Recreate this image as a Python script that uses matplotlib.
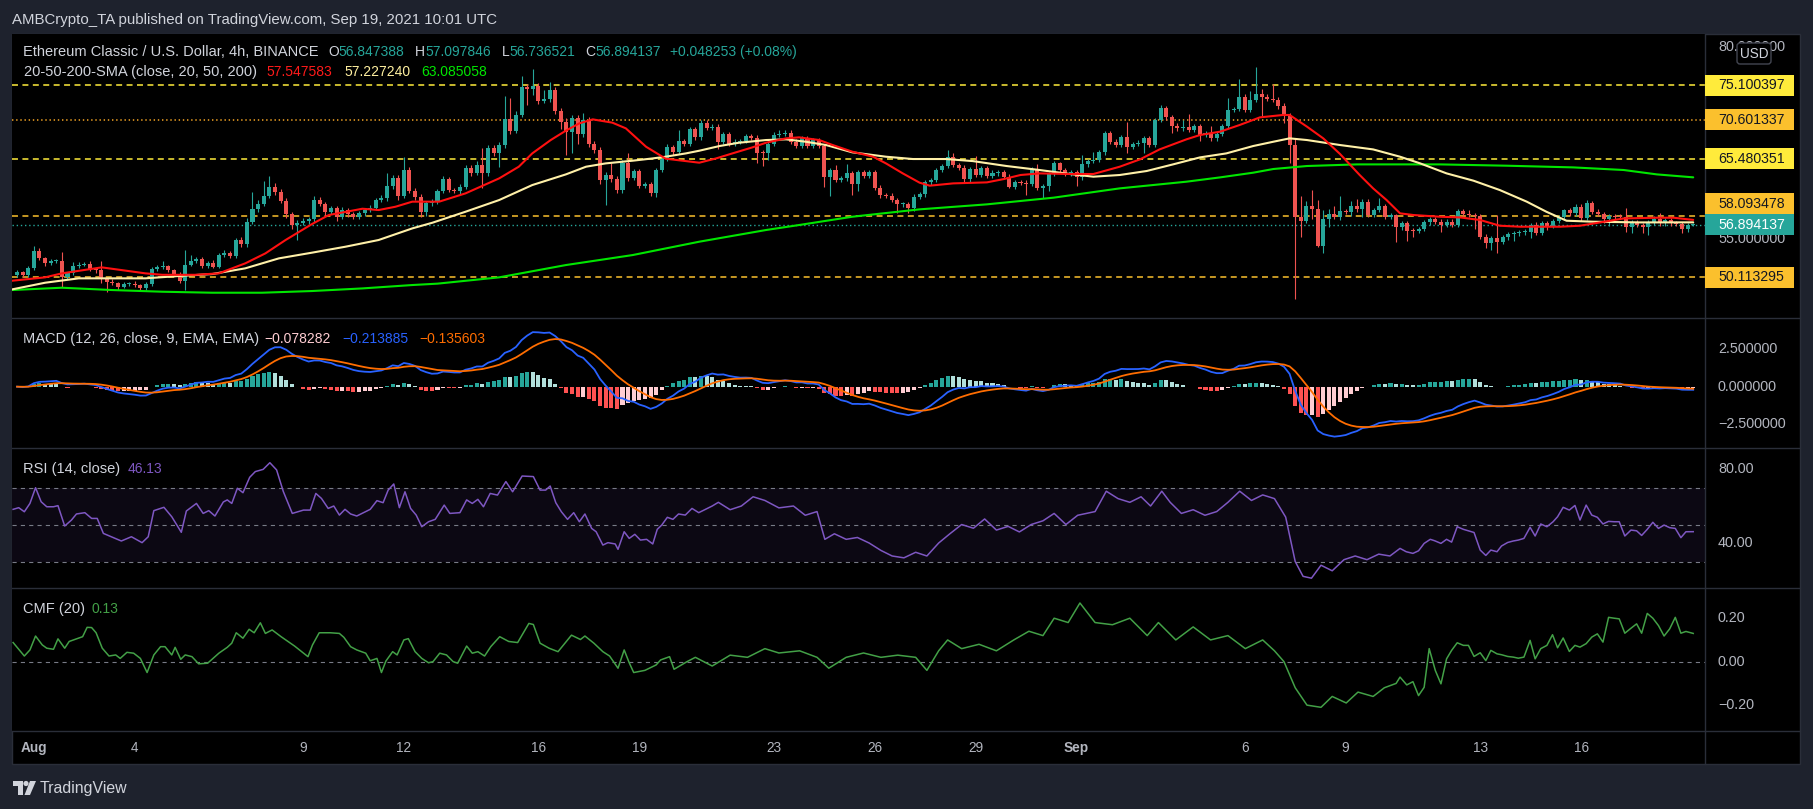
import numpy as np
import pandas as pd
import matplotlib
matplotlib.use("Agg")
import matplotlib.pyplot as plt
from matplotlib.patches import Rectangle, FancyBboxPatch, Polygon, Circle
from matplotlib.lines import Line2D
from matplotlib.transforms import IdentityTransform

plt.rcParams['font.family'] = ['Liberation Sans', 'DejaVu Sans']
plt.rcParams['lines.scale_dashes'] = False

# ---------------- data ----------------
bar_start = -3          # first bar index (4h bars counted from Aug 1 00:00 UTC)
first_open = 50.40
close = [
    50.76, 50.37, 51.24, 53.54, 52.54, 51.89, 52.15, 52.24, 50.15, 50.59,
    51.59, 51.72, 51.85, 51.11, 51.00, 49.81, 49.50, 49.29, 48.85, 49.20,
    49.24, 49.02, 48.63, 49.20, 51.11, 51.46, 51.54, 51.02, 50.50, 49.59,
    51.72, 52.19, 52.41, 51.54, 51.98, 51.46, 52.97, 53.28, 52.84, 54.93,
    54.36, 57.27, 58.92, 59.61, 60.65, 61.87, 61.22, 60.04, 58.27, 56.88,
    57.18, 57.44, 57.62, 60.13, 59.61, 58.61, 59.05, 57.96, 58.83, 58.31,
    57.96, 58.40, 58.83, 59.13, 60.13, 60.35, 61.95, 62.95, 60.65, 64.04,
    61.35, 60.57, 58.61, 59.70, 59.92, 61.30, 62.84, 61.43, 61.35, 61.87,
    64.25, 63.69, 64.69, 63.60, 66.86, 66.29, 67.29, 70.63, 69.11, 71.19,
    74.80, 74.58, 74.97, 73.06, 73.23, 74.45, 71.76, 70.33, 69.03, 70.76,
    68.72, 70.54, 67.42, 66.64, 62.73, 63.39, 62.82, 61.43, 64.99, 63.04,
    63.91, 61.95, 62.21, 61.00, 64.04, 65.47, 66.99, 66.42, 67.81, 67.42,
    69.37, 68.29, 70.20, 69.55, 69.68, 67.72, 68.72, 67.42, 67.72, 67.81,
    68.46, 68.24, 66.29, 66.20, 67.42, 68.59, 68.72, 68.90, 67.72, 67.16,
    68.16, 67.16, 67.94, 67.16, 63.17, 64.04, 62.73, 62.95, 63.60, 62.21,
    63.73, 63.26, 63.73, 61.74, 60.78, 60.70, 60.13, 59.57, 59.61, 59.05,
    60.57, 60.87, 62.43, 62.73, 64.04, 64.56, 65.68, 64.69, 64.34, 62.84,
    64.17, 63.39, 64.25, 63.26, 63.60, 63.73, 63.17, 61.87, 62.43, 62.38,
    62.21, 64.17, 61.74, 61.95, 63.52, 64.90, 64.04, 63.60, 63.73, 63.08,
    64.77, 65.20, 65.34, 66.34, 68.81, 67.72, 67.29, 68.29, 67.07, 67.42,
    67.59, 68.16, 67.29, 70.54, 72.06, 70.89, 69.80, 69.46, 69.59, 69.24,
    69.76, 68.59, 68.81, 68.16, 68.72, 69.76, 71.85, 71.98, 73.58, 71.85,
    73.15, 73.93, 73.58, 73.28, 73.20, 72.41, 71.10, 67.29, 57.87, 57.44,
    59.35, 58.92, 54.15, 57.66, 58.31, 57.96, 58.70, 58.61, 59.35, 58.92,
    59.92, 58.18, 58.83, 59.35, 57.96, 58.18, 56.57, 57.09, 56.14, 56.10,
    56.36, 57.22, 57.61, 57.31, 56.88, 57.31, 56.88, 58.70, 58.31, 58.18,
    58.05, 55.36, 54.58, 55.14, 54.71, 55.27, 55.70, 55.79, 55.92, 56.01,
    56.88, 55.88, 57.09, 56.79, 57.40, 57.87, 58.83, 58.40, 59.26, 57.83,
    59.70, 58.61, 58.31, 57.66, 58.05, 57.96, 57.90, 56.57, 57.18, 56.88,
    56.57, 57.18, 57.61, 57.09, 57.53, 57.09, 57.00, 56.31, 56.85, 56.894137,
]
wick_up = [
    0.3, 0.2, 0.3, 0.6, 0.3, 0.2, 0.3, 0.2, 1.1, 0.2,
    0.5, 0.3, 0.2, 0.3, 0.2, 1.2, 0.2, 0.3, 0.2, 0.2,
    0.2, 0.3, 0.2, 0.2, 0.3, 0.2, 0.6, 0.2, 0.2, 0.3,
    1.9, 0.8, 0.3, 0.3, 0.2, 0.3, 0.3, 0.4, 0.2, 0.3,
    0.4, 0.5, 2.2, 0.5, 1.9, 1.4, 0.5, 0.4, 0.3, 0.3,
    0.3, 0.3, 0.3, 0.5, 0.4, 0.3, 0.3, 0.3, 0.4, 0.3,
    0.2, 0.3, 0.3, 0.3, 0.3, 0.4, 1.65, 0.4, 0.4, 1.7,
    0.4, 0.3, 0.3, 0.3, 0.3, 0.3, 0.4, 0.3, 0.3, 0.4,
    0.4, 0.4, 0.5, 2.2, 0.4, 0.4, 0.4, 3.0, 2.8, 0.5,
    1.5, 0.4, 2.2, 0.4, 1.2, 1.1, 0.4, 0.4, 0.5, 0.5,
    0.4, 0.9, 0.4, 0.4, 0.4, 0.4, 1.5, 0.4, 0.3, 1.2,
    0.3, 0.3, 0.3, 0.3, 0.3, 0.4, 0.4, 0.3, 1.5, 0.3,
    0.3, 0.3, 0.35, 0.3, 0.3, 0.3, 0.3, 0.3, 0.3, 0.3,
    0.3, 0.3, 0.3, 0.3, 0.3, 0.4, 0.5, 0.3, 0.3, 0.3,
    0.3, 0.3, 0.3, 0.3, 0.3, 0.3, 0.65, 0.3, 1.2, 0.3,
    0.3, 0.3, 0.3, 0.3, 0.3, 0.3, 0.3, 0.3, 0.3, 0.3,
    0.3, 0.3, 0.3, 0.3, 0.3, 0.3, 0.95, 0.6, 0.3, 0.3,
    0.3, 1.7, 0.3, 0.3, 0.4, 0.3, 0.3, 0.4, 0.3, 0.3,
    0.3, 0.3, 0.7, 0.3, 0.3, 0.3, 0.2, 0.3, 0.3, 0.3,
    1.2, 0.3, 1.1, 0.3, 0.3, 0.3, 0.3, 0.3, 2.0, 0.3,
    0.3, 0.3, 0.3, 0.3, 0.45, 0.3, 0.3, 0.3, 0.9, 1.7,
    0.3, 0.3, 0.3, 1.0, 0.3, 0.3, 1.6, 0.3, 2.3, 0.3,
    1.2, 3.5, 0.65, 0.3, 1.95, 0.4, 0.3, 0.3, 0.87, 2.8,
    0.7, 2.1, 1.2, 1.2, 0.7, 1.0, 1.9, 0.3, 0.6, 0.9,
    0.4, 0.3, 0.3, 1.0, 0.3, 0.3, 0.1, 0.3, 0.3, 0.3,
    0.3, 0.3, 0.3, 0.3, 0.3, 0.3, 0.3, 0.26, 0.3, 0.5,
    0.3, 0.3, 0.3, 0.3, 3.0, 0.3, 0.3, 0.3, 0.3, 0.3,
    0.3, 0.35, 0.3, 0.3, 0.3, 0.3, 0.2, 0.3, 0.3, 0.3,
    0.45, 0.3, 0.3, 0.3, 0.3, 0.3, 0.3, 1.15, 0.3, 0.3,
    0.3, 0.3, 0.5, 0.8, 0.3, 0.3, 0.3, 0.3, 0.3, 0.2,
]
wick_dn = [
    0.3, 0.2, 0.2, 0.2, 0.2, 0.3, 0.2, 0.2, 1.3, 0.3,
    0.2, 0.3, 0.2, 0.2, 0.3, 0.45, 1.3, 0.2, 0.4, 0.2,
    0.3, 0.2, 0.2, 0.2, 0.2, 0.2, 0.3, 0.2, 0.3, 0.3,
    1.2, 0.2, 0.3, 0.2, 0.3, 0.2, 0.2, 0.3, 0.2, 0.3,
    0.3, 0.3, 0.3, 0.4, 0.3, 0.3, 0.4, 0.3, 0.5, 0.5,
    1.95, 0.3, 0.4, 0.3, 0.3, 0.5, 0.3, 0.5, 0.3, 0.4,
    0.3, 0.3, 0.3, 0.3, 0.3, 0.3, 0.3, 0.4, 0.5, 0.3,
    0.3, 0.4, 0.65, 0.6, 0.3, 0.3, 0.3, 0.3, 0.3, 0.4,
    0.3, 0.4, 0.3, 1.95, 0.3, 0.4, 1.8, 0.4, 0.4, 0.3,
    0.3, 2.1, 0.8, 0.4, 0.3, 0.4, 0.4, 0.9, 3.0, 2.8,
    1.3, 0.4, 0.4, 0.4, 0.5, 3.25, 0.4, 0.4, 0.4, 0.4,
    0.3, 0.3, 0.3, 0.3, 0.5, 0.3, 0.3, 0.4, 0.3, 0.3,
    0.3, 0.3, 0.3, 0.3, 0.3, 1.0, 0.3, 0.3, 0.3, 0.3,
    0.3, 0.3, 1.4, 1.65, 0.9, 0.3, 0.3, 0.3, 0.3, 0.3,
    0.3, 0.3, 0.3, 0.3, 1.3, 2.5, 0.3, 0.3, 0.3, 1.4,
    0.85, 0.3, 0.3, 0.3, 0.4, 0.3, 0.3, 1.1, 0.3, 0.6,
    0.3, 0.3, 0.3, 0.3, 0.3, 0.3, 0.3, 0.3, 0.3, 0.4,
    0.3, 0.3, 0.3, 0.3, 0.3, 0.3, 0.3, 0.2, 0.3, 0.3,
    1.4, 0.3, 0.3, 1.3, 0.7, 0.3, 0.3, 0.3, 0.3, 1.1,
    0.3, 0.3, 0.3, 0.3, 0.3, 0.3, 0.3, 0.3, 0.8, 0.3,
    0.3, 1.4, 0.3, 0.3, 0.3, 0.3, 1.0, 0.3, 0.3, 0.3,
    0.3, 0.8, 0.3, 0.3, 0.3, 0.3, 0.3, 0.3, 0.3, 0.3,
    0.3, 0.3, 2.5, 0.3, 0.3, 0.45, 0.9, 2.4, 10.67, 2.1,
    0.35, 1.2, 0.1, 0.96, 1.0, 0.3, 0.4, 0.3, 0.5, 0.3,
    1.0, 0.3, 0.3, 0.3, 0.3, 0.3, 1.85, 0.3, 1.3, 0.75,
    0.3, 0.3, 0.3, 0.3, 0.87, 0.3, 0.3, 0.3, 0.3, 0.3,
    1.7, 0.3, 0.65, 0.96, 1.5, 0.3, 0.3, 0.85, 0.3, 0.3,
    0.8, 0.3, 0.3, 0.55, 0.3, 0.3, 0.3, 0.3, 0.3, 0.4,
    0.3, 0.3, 0.3, 0.57, 0.9, 0.3, 0.3, 0.56, 0.7, 0.3,
    0.7, 1.0, 0.3, 0.3, 0.3, 0.3, 0.3, 0.43, 0.3, 0.11,
]

sma20_pts = [(-3.9, 49.63), (2, 50.07), (5, 50.59), (12.1, 51.37), (19.9, 50.59), (22.9, 50.4),
             (28.8, 50.4), (33, 50.59), (37.7, 51.89), (41.3, 53.19), (44.9, 54.93), (49.6, 57.0),
             (52.6, 58.18), (58.6, 59.0), (61.5, 58.83), (64.5, 59.26), (67.5, 59.92), (72.3, 59.92),
             (77, 61.0), (83, 62.95), (86.5, 64.47), (88.9, 66.2), (92.2, 67.94), (94.9, 69.16),
             (97.3, 70.11), (99.7, 70.63), (103.2, 70.2), (105.6, 69.46), (109.2, 67.07), (112.7, 65.51),
             (116.3, 65.2), (118.7, 64.99), (121.7, 65.55), (124.6, 66.2), (128.2, 66.99), (130.6, 67.59),
             (134.2, 68.16), (136.5, 68.29), (140.1, 67.94), (142.5, 67.29), (146, 66.42), (149.7, 65.77),
             (152, 64.9), (155, 63.6), (158, 62.39), (159.8, 62.0), (164, 62.3), (170, 62.43),
             (173, 62.86), (176, 63.39), (179.4, 63.6), (184.8, 63.52), (189, 63.52), (193.7, 64.47),
             (197.3, 65.42), (200.8, 66.72), (205.6, 68.03), (208, 68.59), (211.6, 69.03), (215.1, 69.9),
             (218.7, 70.89), (222.8, 71.2), (224, 71.2), (227.1, 69.68), (230, 68.16), (233, 66.12),
             (236.5, 63.39), (238.9, 61.65), (241.3, 60.13), (243.7, 58.4), (246.1, 58.18), (250.8, 57.96),
             (254.4, 57.87), (258, 57.53), (261.5, 56.79), (265.1, 56.66), (268.7, 56.66), (272.3, 56.66),
             (275.8, 56.79), (279.4, 57.22), (283.6, 57.74), (289.5, 57.83), (292.5, 57.83), (296, 57.547583)]
sma50_pts = [(-3.9, 48.5), (2, 49.37), (8, 49.94), (13.9, 49.94), (19.9, 49.94), (25.8, 50.24),
             (31.8, 50.5), (37.7, 51.24), (43.7, 52.54), (49.6, 53.28), (55.6, 54.06), (61.5, 54.93),
             (67.5, 56.44), (71.1, 57.18), (77, 58.61), (83, 60.13), (88.9, 62.08), (94.9, 63.47),
             (98.5, 64.47), (102, 64.9), (106.8, 65.25), (110.4, 65.55), (112.7, 65.77), (116.3, 66.2),
             (118.7, 66.55), (122.3, 67.16), (125.8, 67.59), (130.6, 67.94), (134.2, 68.03), (137.7, 67.72),
             (141.3, 67.29), (146, 66.34), (152, 65.77), (156.8, 65.47), (162.7, 65.47), (167.5, 65.2),
             (173.5, 64.56), (179.4, 64.04), (184.8, 63.52), (189, 63.17), (193.7, 63.39), (198.5, 63.91),
             (203.2, 64.77), (208, 65.68), (212.7, 66.2), (217.5, 67.16), (221.1, 67.72), (224, 68.16),
             (227.1, 67.94), (233, 67.29), (238.9, 66.72), (243.7, 65.77), (247.3, 64.9), (252, 63.6),
             (256.8, 62.65), (261.5, 61.43), (266.3, 59.92), (269.8, 58.61), (273.4, 57.44), (278.2, 57.31),
             (286.5, 57.22), (296, 57.22724)]
sma200_pts = [(-3.9, 48.42), (5, 48.72), (13.9, 48.42), (22.9, 48.2), (31.8, 48.07), (40.7, 48.07),
              (49.6, 48.29), (58.6, 48.63), (67.5, 49.07), (72, 49.25), (83, 50.07), (94.9, 51.67),
              (106.8, 52.97), (118.7, 54.71), (130.6, 56.23), (136.5, 56.88), (146, 57.96), (158, 58.92),
              (170, 59.57), (181.9, 60.44), (193.7, 61.65), (205.6, 62.52), (211.6, 63.08), (217.5, 63.69),
              (221.1, 64.17), (227.1, 64.56), (236, 64.77), (250.8, 64.77), (262.7, 64.6), (274.6, 64.38),
              (283.6, 64.04), (289.5, 63.47), (296, 63.085058)]

rsi_pts = [(-3.7, 58.2), (-2.7, 59.1), (-1.7, 56.9), (-0.7, 61.4), (0.3, 69.9), (1.3, 62.3), (2.3, 59.6),
           (3.5, 59.6), (4.3, 60.2), (5.5, 49.2), (6.7, 52.4), (7.6, 55.7), (9.1, 56.4), (10.3, 53.3),
           (11.3, 53.3), (12.4, 45.2), (13.8, 43.4), (15.6, 41.1), (17.4, 43.4), (19.3, 40.2), (20.4, 43.4),
           (21.4, 57.5), (23.2, 59.3), (24.6, 54.2), (26.3, 45.8), (27.2, 57.3), (29, 61.4), (30.2, 56.0),
           (31.2, 57.5), (32.3, 54.6), (33.8, 62.2), (34.5, 63.3), (35.3, 61.4), (36.3, 69.6), (37.3, 67.2),
           (38.5, 75.5), (39.5, 78.6), (40.9, 79.8), (42.1, 83.4), (43.3, 79.5), (44.5, 67.8), (46.1, 56.0),
           (48.1, 57.8), (49.3, 57.8), (50.3, 66.8), (51.3, 64.1), (52.5, 58.7), (53.5, 60.0), (54.5, 55.1),
           (55.5, 58.2), (56.5, 55.7), (57.6, 54.6), (58.8, 56.4), (60, 58.2), (61.2, 62.9), (62.3, 61.8),
           (63.2, 68.6), (64.2, 71.9), (65.2, 59.1), (66.2, 67.7), (67.2, 58.7), (68.2, 55.1), (69.2, 48.8),
           (70.4, 51.5), (71.6, 52.8), (73.2, 60.5), (74.2, 56.0), (76, 56.4), (77.2, 63.3), (78.2, 61.4),
           (79.2, 63.6), (80.2, 59.6), (81.4, 66.8), (82.7, 65.9), (84.2, 73.2), (85.4, 67.7), (87.1, 76.2),
           (89.1, 75.9), (90.3, 68.6), (91.3, 68.6), (92.1, 70.8), (93.1, 61.8), (94.1, 56.9), (95.2, 52.8),
           (96.3, 56.4), (97.3, 51.5), (98.3, 55.7), (99.5, 47.9), (100.3, 46.1), (101.5, 38.9), (102.4, 40.2),
           (103.7, 39.5), (104.2, 36.6), (105.3, 46.1), (106.2, 42.5), (107.2, 44.7), (108.2, 41.6),
           (109.3, 42.0), (110.4, 39.5), (111.2, 47.4), (112, 49.7), (113, 53.9), (114, 52.8), (115, 55.7),
           (116.2, 55.1), (117.4, 58.7), (118.6, 56.4), (121, 60), (122.1, 62), (124.2, 58), (126.2, 60),
           (128.3, 65), (130.4, 63), (132.9, 59), (135.5, 60), (137.6, 55), (139.7, 57), (141.1, 42),
           (142.8, 45), (144.9, 42), (146.9, 43), (149, 40), (151.1, 36), (153.1, 33), (155.2, 32),
           (157.3, 35), (159.3, 33), (161.4, 40), (163.4, 45), (165.5, 50), (167.6, 48), (169.6, 53),
           (171.7, 47), (173.8, 49), (175.8, 46), (177.9, 50), (180, 52), (182, 56), (184.1, 50),
           (186.2, 55), (189.3, 57), (191.3, 68), (193.4, 64), (195.5, 62), (197.5, 65), (199.2, 60),
           (201.2, 68), (202.7, 62), (204.7, 56), (206.8, 58), (208.9, 55), (211, 57), (213, 62),
           (215.1, 68), (217.2, 63), (219.2, 66), (221.3, 64), (223.3, 54), (225, 30), (226.4, 22),
           (227.9, 21), (229.6, 28), (231.6, 25), (233.7, 31), (235.7, 33), (237.8, 31), (239.9, 34),
           (241.9, 33), (243.7, 37.1), (244.8, 35.3), (246, 34.4), (247, 35.8), (248, 39.8), (249.1, 42.0),
           (249.9, 41.2), (251, 39.8), (252, 42.0), (252.9, 40.5), (253.9, 48.8), (255, 47.4), (255.9, 46.6),
           (256.9, 45.7), (258, 36.2), (259, 33.3), (259.9, 36.2), (261, 35.3), (261.8, 38.4), (262.9, 40.3),
           (263.9, 41.1), (264.8, 41.6), (265.8, 42.5), (266.9, 48.5), (267.8, 43.8), (268.8, 50.3),
           (269.9, 48.8), (271, 51.5), (271.8, 54.2), (272.8, 59.3), (273.9, 57.8), (274.9, 60.3),
           (275.8, 52.4), (276.9, 60.5), (277.9, 55.1), (278.9, 53.9), (279.9, 50.3), (280.9, 51.7),
           (281.9, 51.5), (282.8, 51.5), (283.8, 43.8), (284.9, 47.0), (285.9, 46.6), (286.8, 44.1),
           (287.8, 47.4), (288.8, 51.2), (289.8, 47.9), (290.8, 49.7), (291.8, 48.3), (292.8, 47.9),
           (293.8, 42.9), (294.7, 46.1), (296, 46.13)]

cmf_pts = [(-3.7, 0.088), (-1.7, 0.026), (-0.7, 0.054), (0.3, 0.118), (1.5, 0.077), (2.3, 0.062),
           (3.5, 0.057), (4.3, 0.105), (5.5, 0.062), (6.3, 0.093), (7.9, 0.108), (8.7, 0.115), (9.5, 0.158),
           (10.3, 0.157), (11.1, 0.133), (12.2, 0.062), (13.4, 0.026), (14.6, 0.031), (15.4, 0.015),
           (16.6, 0.043), (17.8, 0.039), (19, 0.015), (20.2, -0.05), (21.4, 0.031), (22.6, 0.069),
           (23.4, 0.069), (24.6, 0.031), (25.2, 0.066), (26.2, 0.011), (27, 0.031), (28.2, 0.023),
           (29.4, -0.01), (31, -0.007), (33, 0.039), (34.5, 0.066), (35.3, 0.085), (36.1, 0.133),
           (37.3, 0.108), (38.4, 0.149), (39.3, 0.133), (40.4, 0.179), (41.3, 0.13), (42.5, 0.146),
           (44.1, 0.115), (46.5, 0.072), (48.9, 0.023), (49.7, 0.077), (50.9, 0.133), (52.9, 0.133),
           (54.5, 0.13), (55.3, 0.112), (56.5, 0.069), (57.6, 0.054), (59.2, 0.039), (60, 0.004),
           (61.2, 0.015), (62, -0.05), (62.8, 0.003), (64, 0.046), (64.8, 0.031), (66, 0.1), (66.8, 0.106),
           (68, 0.046), (69.2, 0.015), (70.4, -0.005), (71.2, 0.0), (72.4, 0.039), (73.6, 0.031),
           (74.8, 0.0), (75.6, -0.007), (77.2, 0.072), (78.2, 0.039), (79.2, 0.046), (80.4, 0.026),
           (81.5, 0.069), (83.1, 0.115), (84.7, 0.093), (86.3, 0.088), (88.3, 0.176), (89.1, 0.171),
           (90.3, 0.085), (91.9, 0.062), (93.5, 0.046), (95.9, 0.122), (97.5, 0.102), (98.3, 0.118),
           (99.9, 0.085), (101.5, 0.046), (102.7, 0.026), (104.2, -0.03), (105.3, 0.054), (106.2, -0.005),
           (107, -0.05), (109, -0.04), (111, -0.015), (111.8, 0.008), (113.4, 0.023), (114.2, -0.035),
           (116.5, 0.0), (118, 0.02), (121, -0.02), (124.2, 0.03), (127.3, 0.02), (130.4, 0.06),
           (132.9, 0.04), (136.6, 0.05), (139.7, 0.02), (141.8, -0.03), (144.9, 0.02), (148, 0.04),
           (151.1, 0.02), (154.1, 0.03), (157.3, 0.02), (159.3, -0.04), (161.4, 0.05), (163, 0.1),
           (165.5, 0.06), (168.6, 0.08), (171.7, 0.05), (174.8, 0.1), (177.5, 0.14), (180, 0.12),
           (182, 0.2), (184.5, 0.18), (186.6, 0.27), (189.3, 0.18), (192.4, 0.17), (195.5, 0.2),
           (198.6, 0.12), (200.6, 0.18), (203.7, 0.1), (206.8, 0.16), (209.9, 0.1), (213, 0.12),
           (216.1, 0.06), (219.2, 0.1), (221.3, 0.05), (223, 0.0), (225, -0.12), (227.1, -0.2),
           (229.6, -0.21), (231.6, -0.16), (234.1, -0.19), (236.2, -0.14), (238.9, -0.16), (240.9, -0.12),
           (243, -0.1), (243.7, -0.071), (244.9, -0.107), (246, -0.092), (247, -0.156), (248, -0.118),
           (248.9, 0.06), (250, -0.041), (251, -0.102), (252, 0.013), (252.9, 0.052), (253.9, 0.087),
           (255, 0.075), (255.9, 0.075), (256.9, 0.024), (258, 0.041), (259, 0.005), (259.9, 0.052),
           (261, 0.036), (261.8, 0.032), (262.9, 0.024), (263.9, 0.021), (264.8, 0.016), (265.8, 0.021),
           (266.9, 0.098), (267.8, 0.013), (268.8, 0.06), (269.9, 0.075), (270.9, 0.124), (271.8, 0.064),
           (272.8, 0.109), (273.9, 0.047), (274.9, 0.075), (275.8, 0.067), (276.9, 0.083), (277.9, 0.113),
           (278.9, 0.128), (279.9, 0.09), (280.9, 0.204), (281.9, 0.2), (282.8, 0.197), (283.8, 0.131),
           (284.9, 0.154), (285.9, 0.174), (286.8, 0.131), (287.8, 0.222), (288.8, 0.2), (289.8, 0.166),
           (290.8, 0.118), (291.8, 0.151), (292.8, 0.204), (293.8, 0.131), (294.7, 0.139), (296, 0.13)]

levels = [75.100397, 70.601337, 65.480351, 58.093478, 50.113295]
level_line_colors = ['#ffeb3b', '#f9a825', '#ffeb3b', '#fbc02d', '#fbc02d']
level_box_colors = ['#ffeb3b', '#fbc02d', '#ffeb3b', '#fbc02d', '#fbc02d']
level_dotted = [False, True, False, False, False]
last_price = 56.894137
price_ticks = [80, 55]          # tick labels not hidden behind the level boxes
macd_ticks = [2.5, 0.0, -2.5]
macd_tick_labels = ['2.500000', '0.000000', '\u22122.500000']
rsi_ticks = [80, 40]
rsi_tick_labels = ['80.00', '40.00']
cmf_ticks = [0.2, 0.0, -0.2]
cmf_tick_labels = ['0.20', '0.00', '\u22120.20']
date_days = [0, 3, 8, 11, 15, 18, 22, 25, 28, 31, 36, 39, 43, 46]
date_labels = ['Aug', '4', '9', '12', '16', '19', '23', '26', '29', 'Sep', '6', '9', '13', '16']
bars_per_day = 6

# ---------------- figure ----------------
W, H = 1813, 809
fig = plt.figure(figsize=(W / 100, H / 100), dpi=100)
fig.patch.set_facecolor('#1e222d')
ID = IdentityTransform()
GRID = '#2a2e39'
AXTXT = '#b2b5be'


def px_axes(x0, y0, x1, y1):
    a = fig.add_axes([x0 / W, 1 - y1 / H, (x1 - x0) / W, (y1 - y0) / H])
    a.set_facecolor('#000000')
    for s in a.spines.values():
        s.set_visible(False)
    a.set_xticks([])
    a.set_yticks([])
    a.set_xlim(-3.9, 298.1)
    return a


fig.add_artist(Rectangle((12, H - 764), 1788, 730, transform=ID, facecolor='#000000',
                         edgecolor=GRID, lw=1, zorder=-1))

PL, PR = 12, 1705
ax = px_axes(PL, 34, PR, 318)
axm = px_axes(PL, 318, PR, 448)
axr = px_axes(PL, 448, PR, 588)
axc = px_axes(PL, 588, PR, 731)
ax.set_ylim(44.78, 81.74)
axm.set_ylim(-4.09, 4.58)
axr.set_ylim(15.7, 91.35)
axc.set_ylim(-0.319, 0.339)

for yy in [318, 448, 588, 731]:
    fig.add_artist(Line2D([12, 1800], [H - yy, H - yy], transform=ID, color=GRID, lw=1, zorder=4))
fig.add_artist(Line2D([PR, PR], [H - 34, H - 764], transform=ID, color=GRID, lw=1, zorder=4))

# ---------------- candles ----------------
n = len(close)
xi = np.arange(n) + bar_start
c = np.array(close)
o = np.concatenate([[first_open], c[:-1]])
hi = np.maximum(o, c) + np.array(wick_up)
lo = np.minimum(o, c) - np.array(wick_dn)
cols = np.where(c >= o, '#26a69a', '#ef5350')

for lv, lc, dotted in zip(levels, level_line_colors, level_dotted):
    ax.axhline(lv, color=lc, lw=1.1, dashes=(1, 2) if dotted else (4.3, 3.2), zorder=1)
ax.axhline(last_price, color='#26a69a', lw=1.0, dashes=(1, 2), zorder=1)

ax.vlines(xi, lo, hi, colors=cols, lw=0.8, zorder=2)
ax.bar(xi, np.maximum(np.abs(c - o), 0.12), bottom=np.minimum(o, c), width=0.72,
       color=cols, lw=0, zorder=3)

for pts, colr in [(sma200_pts, '#00e600'), (sma50_pts, '#fff0a8'), (sma20_pts, '#ff1010')]:
    px, pv = zip(*pts)
    ax.plot(px, pv, color=colr, lw=1.5, zorder=4, solid_capstyle='round')

# ---------------- MACD ----------------
s = pd.Series(c)
macd = s.ewm(span=12, adjust=False).mean() - s.ewm(span=26, adjust=False).mean()
signal = macd.ewm(span=9, adjust=False).mean()
hist = (macd - signal).values
prev = np.concatenate([[0.0], hist[:-1]])
hcol = np.where(hist >= 0, np.where(hist > prev, '#26a69a', '#b2dfdb'),
                np.where(hist < prev, '#ff5252', '#ffcdd2'))
axm.bar(xi, hist, width=0.72, color=hcol, lw=0, zorder=2)
axm.plot(xi, macd.values, color='#2962ff', lw=1.3, zorder=3)
axm.plot(xi, signal.values, color='#ff6d00', lw=1.3, zorder=3)

# ---------------- RSI ----------------
axr.axhspan(30, 70, color='#7e57c2', alpha=0.1, lw=0, zorder=0)
for lv in [70, 50, 30]:
    axr.axhline(lv, color='#787b86', lw=0.8, dashes=(3, 3), zorder=1)
rx, rv = zip(*rsi_pts)
axr.plot(rx, rv, color='#7e57c2', lw=1.1, zorder=2)

# ---------------- CMF ----------------
axc.axhline(0, color='#787b86', lw=0.8, dashes=(3, 3), zorder=1)
cx, cv = zip(*cmf_pts)
axc.plot(cx, cv, color='#43a047', lw=1.1, zorder=2)

# ---------------- price axis labels ----------------
LBL_X = 1718
FS_AX = 10.4
FS_BOX = 10.2


def ydisp(a, v):
    return a.transData.transform((0, v))[1]


def axis_label(a, v, text):
    fig.text(LBL_X / W, ydisp(a, v) / H, text, color=AXTXT, fontsize=FS_AX,
             va='center', ha='left', zorder=5)


for v in price_ticks:
    axis_label(ax, v, '%.6f' % v)
for v, t in zip(macd_ticks, macd_tick_labels):
    axis_label(axm, v, t)
for v, t in zip(rsi_ticks, rsi_tick_labels):
    axis_label(axr, v, t)
for v, t in zip(cmf_ticks, cmf_tick_labels):
    axis_label(axc, v, t)

BOX_H = 21


def price_box(yc, text, fc, tc):
    fig.add_artist(Rectangle((PR, yc - BOX_H / 2), 89, BOX_H, transform=ID, facecolor=fc,
                             edgecolor='none', zorder=6))
    fig.text(LBL_X / W, yc / H, text, color=tc, fontsize=FS_BOX, va='center', ha='left', zorder=7)


cur_y = ydisp(ax, last_price)
for lv, bc in zip(levels, level_box_colors):
    yc = ydisp(ax, lv)
    if abs(yc - cur_y) < BOX_H:
        yc = cur_y + BOX_H if yc > cur_y else cur_y - BOX_H
    price_box(yc, '%.6f' % lv, bc, '#131722')
price_box(cur_y, '%.6f' % last_price, '#26a69a', '#ffffff')

fig.add_artist(FancyBboxPatch((1737, H - 64), 34, 21, boxstyle='round,pad=0,rounding_size=3',
                              transform=ID, facecolor='#000000', edgecolor='#434651', lw=1, zorder=8))
fig.text(1754 / W, (H - 53.5) / H, 'USD', color='#d1d4dc', fontsize=9.8, va='center', ha='center', zorder=9)

# ---------------- time axis ----------------
for d, lab in zip(date_days, date_labels):
    xd = ax.transData.transform((d * bars_per_day, 0))[0]
    fig.text(xd / W, (H - 748) / H, lab, color=AXTXT, fontsize=9.8, va='center', ha='center',
             fontweight='bold' if lab in ('Aug', 'Sep') else 'normal', zorder=5)

# ---------------- header texts ----------------
renderer = fig.canvas.get_renderer()
FS_H = 10.5
FS_V = 10.0


def chain(x, y, pieces, size=FS_H):
    for txt, col in pieces:
        t = fig.text(x / W, 1 - y / H, txt, color=col, fontsize=size, va='center', ha='left', zorder=6)
        x += t.get_window_extent(renderer=renderer).width
    return x


TITLE = '#d1d4dc'
TEAL = '#26a69a'
fig.text(12 / W, 1 - 20 / H, 'AMBCrypto_TA published on TradingView.com, Sep 19, 2021 10:01 UTC',
         color='#d1d4dc', fontsize=10.8, va='center', ha='left')
chain(23, 52, [('Ethereum Classic / U.S. Dollar, 4h, BINANCE', TITLE)])
chain(328, 52, [('O', TITLE), ('56.847388', TEAL)], FS_V)
chain(415, 52, [('H', TITLE), ('57.097846', TEAL)], FS_V)
chain(502, 52, [('L', TITLE), ('56.736521', TEAL)], FS_V)
chain(585, 52, [('C', TITLE), ('56.894137', TEAL)], FS_V)
chain(670, 52, [('+0.048253 (+0.08%)', TEAL)], FS_V)
chain(24, 72, [('20-50-200-SMA (close, 20, 50, 200)', TITLE)])
chain(266, 72, [('57.547583', '#ff1a1a')], FS_V)
chain(344, 72, [('57.227240', '#fff0a0')], FS_V)
chain(421, 72, [('63.085058', '#00e600')], FS_V)
chain(23, 339, [('MACD (12, 26, close, 9, EMA, EMA)', TITLE)])
chain(264, 339, [('\u22120.078282', '#ffcdd2')], FS_V)
chain(342, 339, [('\u22120.213885', '#2962ff')], FS_V)
chain(419, 339, [('\u22120.135603', '#ff6d00')], FS_V)
chain(23, 469, [('RSI (14, close)', TITLE)])
chain(128, 469, [('46.13', '#7e57c2')], FS_V)
chain(23, 609, [('CMF (20)', TITLE)])
chain(91, 609, [('0.13', '#43a047')], FS_V)

# ---------------- TradingView logo ----------------
LC = '#d1d4dc'
fig.add_artist(Polygon([(13, H - 781), (23, H - 781), (23, H - 795), (18, H - 795), (18, H - 786),
                        (13, H - 786)], closed=True, transform=ID, facecolor=LC, edgecolor='none'))
fig.add_artist(Circle((26, H - 783.5), 2.6, transform=ID, facecolor=LC, edgecolor='none'))
fig.add_artist(Polygon([(30, H - 781), (36, H - 781), (30, H - 795), (24.5, H - 795)], closed=True,
                       transform=ID, facecolor=LC, edgecolor='none'))
fig.text(40 / W, 1 - 788 / H, 'TradingView', color=LC, fontsize=11.4, va='center', ha='left')

fig.savefig('out.png', dpi=100, facecolor=fig.get_facecolor())
